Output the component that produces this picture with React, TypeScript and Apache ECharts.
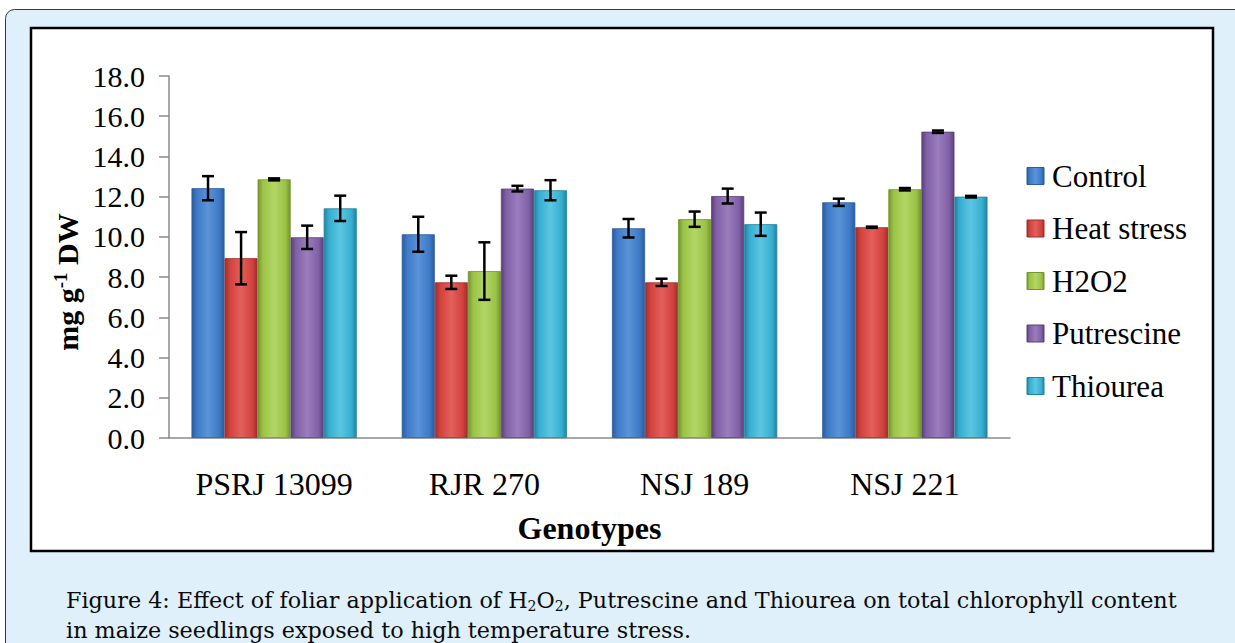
import React, { useEffect, useRef } from "react";
import * as echarts from "echarts";

const categories = ["PSRJ 13099", "RJR 270", "NSJ 189", "NSJ 221"];
const seriesNames = ["Control", "Heat stress", "H2O2", "Putrescine", "Thiourea"];
const controlValues = [12.42, 10.13, 10.43, 11.72];
const heatValues = [8.94, 7.74, 7.74, 10.48];
const h2o2Values = [12.86, 8.3, 10.88, 12.37];
const putrescineValues = [9.98, 12.4, 12.03, 15.23];
const thioureaValues = [11.42, 12.32, 10.63, 12.0];
const controlErr = [0.6, 0.87, 0.46, 0.18];
const heatErr = [1.3, 0.33, 0.18, 0.03];
const h2o2Err = [0.05, 1.43, 0.38, 0.06];
const putrescineErr = [0.58, 0.14, 0.37, 0.06];
const thioureaErr = [0.63, 0.5, 0.58, 0.04];
const yTicks = { min: 0, max: 18, interval: 2 };

const allValues = [controlValues, heatValues, h2o2Values, putrescineValues, thioureaValues];
const allErrs = [controlErr, heatErr, h2o2Err, putrescineErr, thioureaErr];
const palette = [
  ["#2b5c9e", "#3d79c6", "#5a93d8"],
  ["#a02e2b", "#d2413d", "#e2605b"],
  ["#75952f", "#9bc346", "#b2d665"],
  ["#5c3f7b", "#8060a6", "#9a7dbd"],
  ["#22839e", "#36aed0", "#5cc6e2"],
];
const BAR_GAP_RATIO = 0.214;
const SERIF = "Liberation Serif";
const CAPTION_FONT = "DejaVu Serif";

export default function App() {
  const ref = useRef<HTMLDivElement>(null);
  useEffect(() => {
    if (!ref.current) return;
    const chart = echarts.init(ref.current, null, { renderer: "svg" });
    const grad = (c: string[]) =>
      new echarts.graphic.LinearGradient(0, 0, 1, 0, [
        { offset: 0, color: c[0] },
        { offset: 0.15, color: c[1] },
        { offset: 0.5, color: c[2] },
        { offset: 0.85, color: c[1] },
        { offset: 1, color: c[0] },
      ]);
    const barSeries = seriesNames.map((name, i) => ({
      name,
      type: "bar",
      data: allValues[i],
      barGap: "0%",
      barCategoryGap: BAR_GAP_RATIO * 100 + "%",
      itemStyle: { color: grad(palette[i]), borderColor: palette[i][0], borderWidth: 0.8 },
    }));
    const errData: number[][] = [];
    allValues.forEach((vals, s) =>
      vals.forEach((v, c) => errData.push([c, s, v - allErrs[s][c], v + allErrs[s][c]]))
    );
    const errSeries = {
      type: "custom",
      name: "err",
      data: errData,
      z: 10,
      renderItem: (params: any, api: any) => {
        const c = api.value(0);
        const s = api.value(1);
        const lo = api.coord([c, api.value(2)]);
        const hi = api.coord([c, api.value(3)]);
        const band = api.size([1, 0])[0];
        const bw = (band * (1 - BAR_GAP_RATIO)) / 5;
        const x = lo[0] + (s - 2) * bw;
        const hw = 6;
        const style = { stroke: "#000", lineWidth: 2.5 };
        return {
          type: "group",
          children: [
            { type: "line", shape: { x1: x, y1: lo[1], x2: x, y2: hi[1] }, style },
            { type: "line", shape: { x1: x - hw, y1: lo[1], x2: x + hw, y2: lo[1] }, style },
            { type: "line", shape: { x1: x - hw, y1: hi[1], x2: x + hw, y2: hi[1] }, style },
          ],
        };
      },
    };
    const legendItems: any[] = [];
    seriesNames.forEach((n, i) => {
      const cy = 176 + i * 52.5;
      legendItems.push({
        type: "rect",
        shape: { x: 1027, y: cy - 8.5, width: 17, height: 17 },
        style: { fill: grad(palette[i]), stroke: palette[i][0], lineWidth: 1 },
      });
      legendItems.push({
        type: "text",
        x: 1052,
        y: cy,
        style: { text: n, fontFamily: SERIF, fontSize: 31, fill: "#000", verticalAlign: "middle" },
      });
    });
    chart.setOption({
      animation: false,
      textStyle: { fontFamily: SERIF },
      graphic: [
        {
          type: "rect",
          z: -10,
          shape: { x: 5.5, y: 9.5, width: 1240, height: 660, r: 9 },
          style: { fill: "#dff0fa", stroke: "#3a3a3a", lineWidth: 1 },
        },
        {
          type: "rect",
          z: -9,
          shape: { x: 31, y: 28, width: 1182, height: 523 },
          style: { fill: "#ffffff", stroke: "#000", lineWidth: 2.5 },
        },
        ...legendItems,
        {
          type: "text",
          x: 67,
          y: 282,
          rotation: Math.PI / 2,
          style: {
            text: "{b|mg g}{s|-1}{b| DW}",
            align: "center",
            verticalAlign: "middle",
            rich: {
              b: { fontFamily: SERIF, fontWeight: "bold", fontSize: 30, fill: "#000" },
              s: { fontFamily: SERIF, fontWeight: "bold", fontSize: 19, fill: "#000", verticalAlign: "top", padding: [0, 0, 14, 0] },
            },
          },
        },
        {
          type: "text",
          x: 66,
          y: 600,
          style: {
            text:
              "{n|Figure 4: Effect of foliar application of H}{sub|2}{n|O}{sub|2}{n|, Putrescine and Thiourea on total chlorophyll content}",
            verticalAlign: "middle",
            rich: {
              n: { fontSize: 22.3, fontFamily: CAPTION_FONT, fill: "#0a0a0a" },
              sub: { fontSize: 14, fontFamily: CAPTION_FONT, fill: "#0a0a0a", padding: [11, 0, 0, 0] },
            },
          },
        },
        {
          type: "text",
          x: 66,
          y: 630,
          style: {
            text: "in maize seedlings exposed to high temperature stress.",
            verticalAlign: "middle",
            fill: "#0a0a0a",
            fontSize: 22.3,
            fontFamily: CAPTION_FONT,
          },
        },
      ],
      grid: { left: 169, right: 225, top: 76, bottom: 205, containLabel: false },
      xAxis: {
        type: "category",
        data: categories,
        axisLine: { lineStyle: { color: "#8a8a8a", width: 1.5 } },
        axisTick: { show: false },
        axisLabel: { fontFamily: SERIF, fontSize: 32, color: "#000", margin: 30 },
        name: "Genotypes",
        nameLocation: "middle",
        nameGap: 74,
        nameTextStyle: { fontFamily: SERIF, fontSize: 32, fontWeight: "bold", color: "#000", verticalAlign: "top" },
      },
      yAxis: {
        type: "value",
        min: yTicks.min,
        max: yTicks.max,
        interval: yTicks.interval,
        axisLine: { show: true, lineStyle: { color: "#8a8a8a", width: 1.5 } },
        axisTick: { show: true, inside: false, length: 10, lineStyle: { color: "#8a8a8a", width: 1.5 } },
        splitLine: { show: false },
        axisLabel: {
          fontFamily: SERIF,
          fontSize: 30,
          color: "#000",
          margin: 24,
          formatter: (v: number) => v.toFixed(1),
        },
      },
      series: [...barSeries, errSeries],
    });
    return () => chart.dispose();
  }, []);
  return (
    <div
      ref={ref}
      style={{ position: "fixed", left: 0, top: 0, width: 1235, height: 643, background: "#fff" }}
    />
  );
}
